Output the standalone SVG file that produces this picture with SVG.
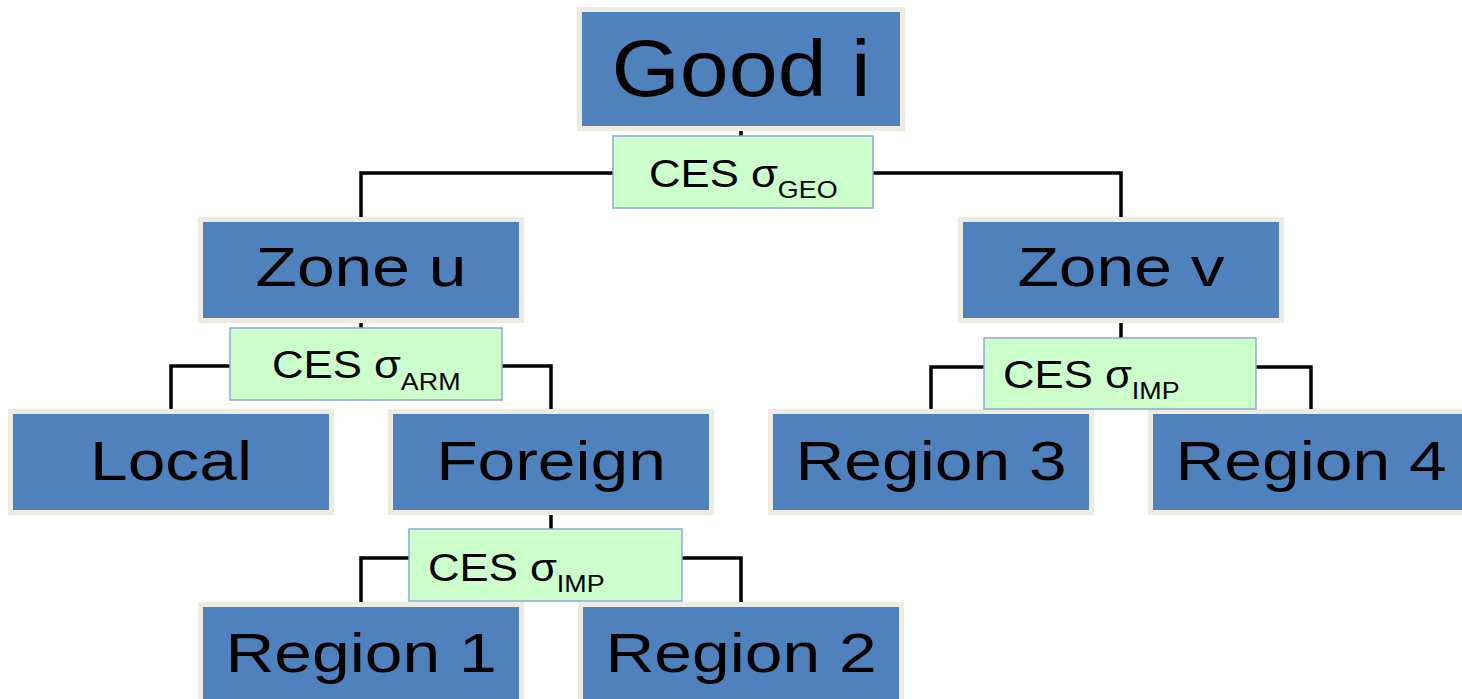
<svg xmlns="http://www.w3.org/2000/svg" width="1462" height="699" viewBox="0 0 1462 699">
<style>
.node rect{fill:#4F81BD;stroke:#EEECE1;stroke-width:5}
.node text{font-family:"Liberation Sans",Arial,sans-serif;font-size:56px;fill:#000;text-anchor:middle}
.ces rect{fill:#CCFFCC;stroke:#8EA9D6;stroke-width:1.5}
.ces text{font-family:"Liberation Sans",Arial,sans-serif;font-size:39px;fill:#000}
.ces tspan{font-size:24px}
#connectors path{fill:none;stroke:#000;stroke-width:3.5}
</style>
<rect width="1462" height="699" fill="#fff"/>
<g id="connectors">
<path d="M741,129 V136"/>
<path d="M361,219 V173 H1121 V219"/>
<path d="M361,320 V328"/>
<path d="M171,412 V366 H551 V412"/>
<path d="M551,512 V529"/>
<path d="M361,605 V558 H741 V605"/>
<path d="M1121,320 V338"/>
<path d="M931,412 V367 H1311 V412"/>
</g>
<g id="good-i" class="node"><rect x="579.5" y="9.5" width="323" height="119"/><text transform="translate(741,96) scale(1.1,1)" style="font-size:80px">Good i</text></g>
<g id="zone-u" class="node"><rect x="200.5" y="219.5" width="321" height="101"/><text transform="translate(361,286) scale(1.21,1)">Zone u</text></g>
<g id="zone-v" class="node"><rect x="960.5" y="219.5" width="321" height="101"/><text transform="translate(1121,286) scale(1.21,1)">Zone v</text></g>
<g id="local" class="node"><rect x="10.5" y="411.5" width="321" height="101"/><text transform="translate(171,480) scale(1.21,1)">Local</text></g>
<g id="foreign" class="node"><rect x="390.5" y="411.5" width="321" height="101"/><text transform="translate(551,480) scale(1.21,1)">Foreign</text></g>
<g id="region-3" class="node"><rect x="770.5" y="411.5" width="321" height="101"/><text transform="translate(931,480) scale(1.21,1)">Region 3</text></g>
<g id="region-4" class="node"><rect x="1150.5" y="411.5" width="321" height="101"/><text transform="translate(1311,480) scale(1.21,1)">Region 4</text></g>
<g id="region-1" class="node"><rect x="200.5" y="604.5" width="321" height="101"/><text transform="translate(361,672) scale(1.21,1)">Region 1</text></g>
<g id="region-2" class="node"><rect x="580.5" y="604.5" width="321" height="101"/><text transform="translate(741,672) scale(1.21,1)">Region 2</text></g>
<g id="ces-geo" class="ces"><rect x="613" y="136" width="260" height="72"/><text transform="translate(649,187) scale(1.12,1)">CES σ<tspan dy="11">GEO</tspan></text></g>
<g id="ces-arm" class="ces"><rect x="230" y="328" width="272" height="72"/><text transform="translate(272,378) scale(1.12,1)">CES σ<tspan dy="12">ARM</tspan></text></g>
<g id="ces-imp-left" class="ces"><rect x="409" y="529" width="273" height="72"/><text transform="translate(428,581) scale(1.12,1)">CES σ<tspan dy="11">IMP</tspan></text></g>
<g id="ces-imp-right" class="ces"><rect x="984" y="338" width="272" height="71"/><text transform="translate(1003,388) scale(1.12,1)">CES σ<tspan dy="11">IMP</tspan></text></g>
</svg>
